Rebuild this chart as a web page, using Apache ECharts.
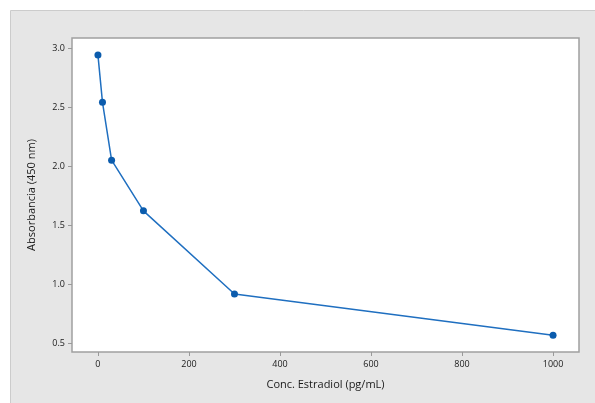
<!DOCTYPE html>
<html><head><meta charset="utf-8">
<script src="https://cdn.jsdelivr.net/npm/echarts@6/dist/echarts.min.js"></script>
<style>html,body{margin:0;padding:0;background:#fff}#c{width:595px;height:403px}</style>
</head><body><div id="c"></div>
<script>
const concentrations = [0, 10, 30, 100, 300, 1000];
const absorbance = [2.94, 2.54, 2.05, 1.62, 0.915, 0.565];
const xTicks = [0, 200, 400, 600, 800, 1000];
const yTicks = [0.5, 1.0, 1.5, 2.0, 2.5, 3.0];
const xTitle = 'Conc. Estradiol (pg/mL)';
const yTitle = 'Absorbancia (450 nm)';

const chart = echarts.init(document.getElementById('c'));
const labelFont = {color:'#1a1a1a', fontSize:9, fontFamily:'Open Sans', fontWeight:500};
chart.setOption({
  animation:false,
  graphic:[{type:'rect', z:-10, shape:{x:10.5,y:10.5,width:590,height:400}, style:{fill:'#e6e6e6', stroke:'#cccccc', lineWidth:1}}],
  grid:{left:72, top:38, right:16, bottom:51, show:true, backgroundColor:'#fff', borderColor:'#a0a0a0', borderWidth:1.5},
  xAxis:{type:'value', min:-57, max:1057, interval:200,
    name:xTitle, nameLocation:'middle', nameGap:27,
    nameTextStyle:{color:'#1a1a1a', fontSize:11, fontFamily:'Open Sans'},
    splitLine:{show:false},
    axisLine:{show:false, onZero:false},
    axisTick:{show:true, length:4, lineStyle:{color:'#999'}, customValues:xTicks},
    axisLabel:Object.assign({customValues:xTicks, margin:8, formatter:v=>String(v)}, labelFont)},
  yAxis:{type:'value', min:0.424, max:3.085,
    name:yTitle, nameLocation:'middle', nameGap:35,
    nameTextStyle:{color:'#1a1a1a', fontSize:11, fontFamily:'Open Sans'},
    splitLine:{show:false},
    axisLine:{show:false, onZero:false},
    axisTick:{show:true, length:4, lineStyle:{color:'#999'}, customValues:yTicks},
    axisLabel:Object.assign({customValues:yTicks, margin:7, formatter:v=>v.toFixed(1)}, labelFont)},
  series:[{type:'line', data:concentrations.map((x,i)=>[x,absorbance[i]]),
    symbol:'circle', symbolSize:7,
    lineStyle:{color:'#1f6fc0', width:1.5},
    itemStyle:{color:'#0b5cad'}}]
});
</script></body></html>
